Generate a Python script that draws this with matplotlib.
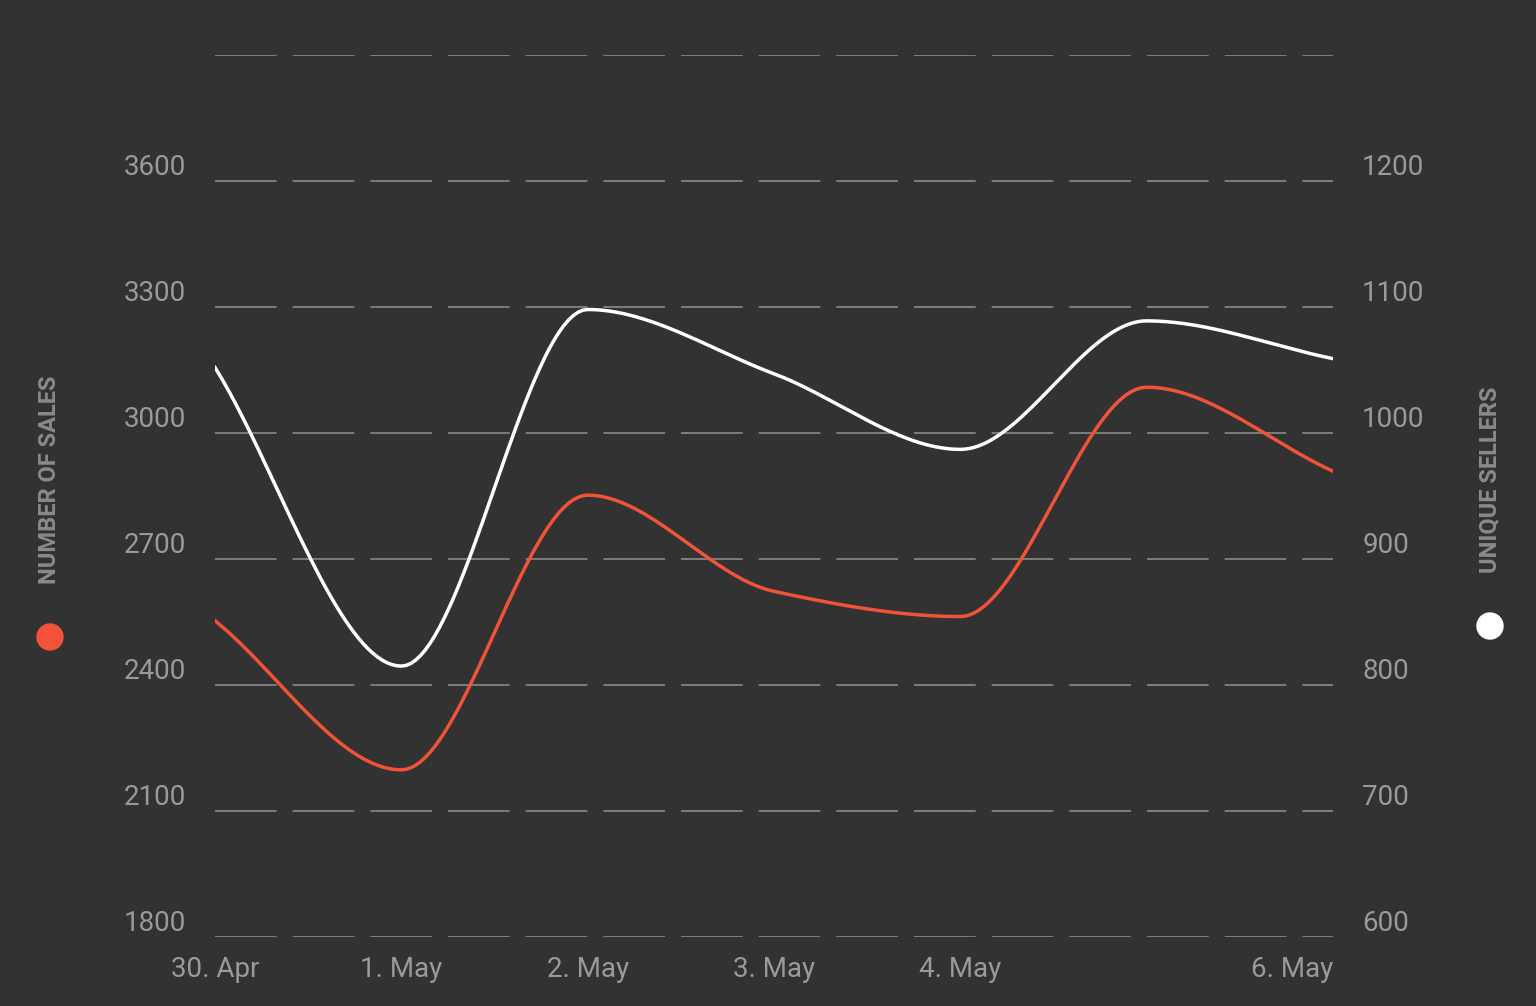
import numpy as np
import matplotlib.pyplot as plt
from matplotlib.patches import Ellipse

plt.rcParams['font.family'] = ['Roboto', 'DejaVu Sans']

dates = ["30. Apr", "1. May", "2. May", "3. May", "4. May", "5. May", "6. May"]
sales = [2553, 2198, 2852, 2623, 2563, 3109, 2909]
sellers = [1052, 815, 1098, 1047, 987, 1089, 1059]
shown_labels = ["30. Apr", "1. May", "2. May", "3. May", "4. May", "", "6. May"]


def smooth(x, y, n=40):
    # monotone cubic (Fritsch-Carlson) to mimic the spline look
    x = np.asarray(x, float); y = np.asarray(y, float)
    h = np.diff(x); d = np.diff(y) / h
    m = np.zeros_like(y)
    m[0], m[-1] = d[0], d[-1]
    for i in range(1, len(y) - 1):
        m[i] = 0 if d[i - 1] * d[i] <= 0 else 2 / (1 / d[i - 1] + 1 / d[i])
    xs, ys = [], []
    for i in range(len(h)):
        t = np.linspace(0, 1, n)
        h00 = 2*t**3 - 3*t**2 + 1; h10 = t**3 - 2*t**2 + t
        h01 = -2*t**3 + 3*t**2; h11 = t**3 - t**2
        xs.append(x[i] + t*h[i])
        ys.append(h00*y[i] + h10*h[i]*m[i] + h01*y[i+1] + h11*h[i]*m[i+1])
    return np.concatenate(xs), np.concatenate(ys)


bg = "#323232"
fig = plt.figure(figsize=(15.36, 10.06), dpi=100, facecolor=bg)
ax = fig.add_axes([215/1536, 1-937/1006, 1118/1536, (937-55)/1006])
ax.set_facecolor(bg)
ax2 = ax.twinx()

x = np.arange(len(dates))
ax.set_xlim(0, 6)
ax.set_ylim(1800, 3900)
ax2.set_ylim(600, 1300)

for v in range(1800, 3901, 300):
    ax.axhline(v, color="#8a8a8a", lw=1.2, dashes=(37, 9.6), zorder=1)

sx, sy = smooth(x, sales)
ax.plot(sx, sy, color="#f0533a", lw=2.5, zorder=3)
wx, wy = smooth(x, sellers)
ax2.plot(wx, wy, color="white", lw=2.5, zorder=3)

ax.set_yticks(range(1800, 3601, 300))
ax2.set_yticks(range(600, 1201, 100))
ax.set_xticks(x)
ax.set_xticklabels(shown_labels)
for a in (ax, ax2):
    a.tick_params(length=0, colors="#9a9a9a", labelsize=20)
    for s in a.spines.values():
        s.set_visible(False)
ax.tick_params(axis="y", pad=21)
ax2.tick_params(axis="y", pad=21)
ax.tick_params(axis="x", pad=14)
for lab in ax.get_yticklabels() + ax2.get_yticklabels():
    lab.set_va("bottom")
ax.get_xticklabels()[-1].set_ha("right")

fig.text(50/1536, 1-480/1006, "NUMBER OF SALES", rotation=90, color="#8a8a8a",
         fontsize=17, fontweight="bold", ha="center", va="center")
fig.text(1490/1536, 1-480/1006, "UNIQUE SELLERS", rotation=90, color="#8a8a8a",
         fontsize=17, fontweight="bold", ha="center", va="center")
fig.patches.append(Ellipse((50/1536, 1-637/1006), 26/1536, 26/1006, transform=fig.transFigure,
                           color="#f0533a", figure=fig))
fig.patches.append(Ellipse((1490/1536, 1-626/1006), 26/1536, 26/1006, transform=fig.transFigure,
                           color="white", figure=fig))

fig.savefig("out.png", facecolor=bg)
